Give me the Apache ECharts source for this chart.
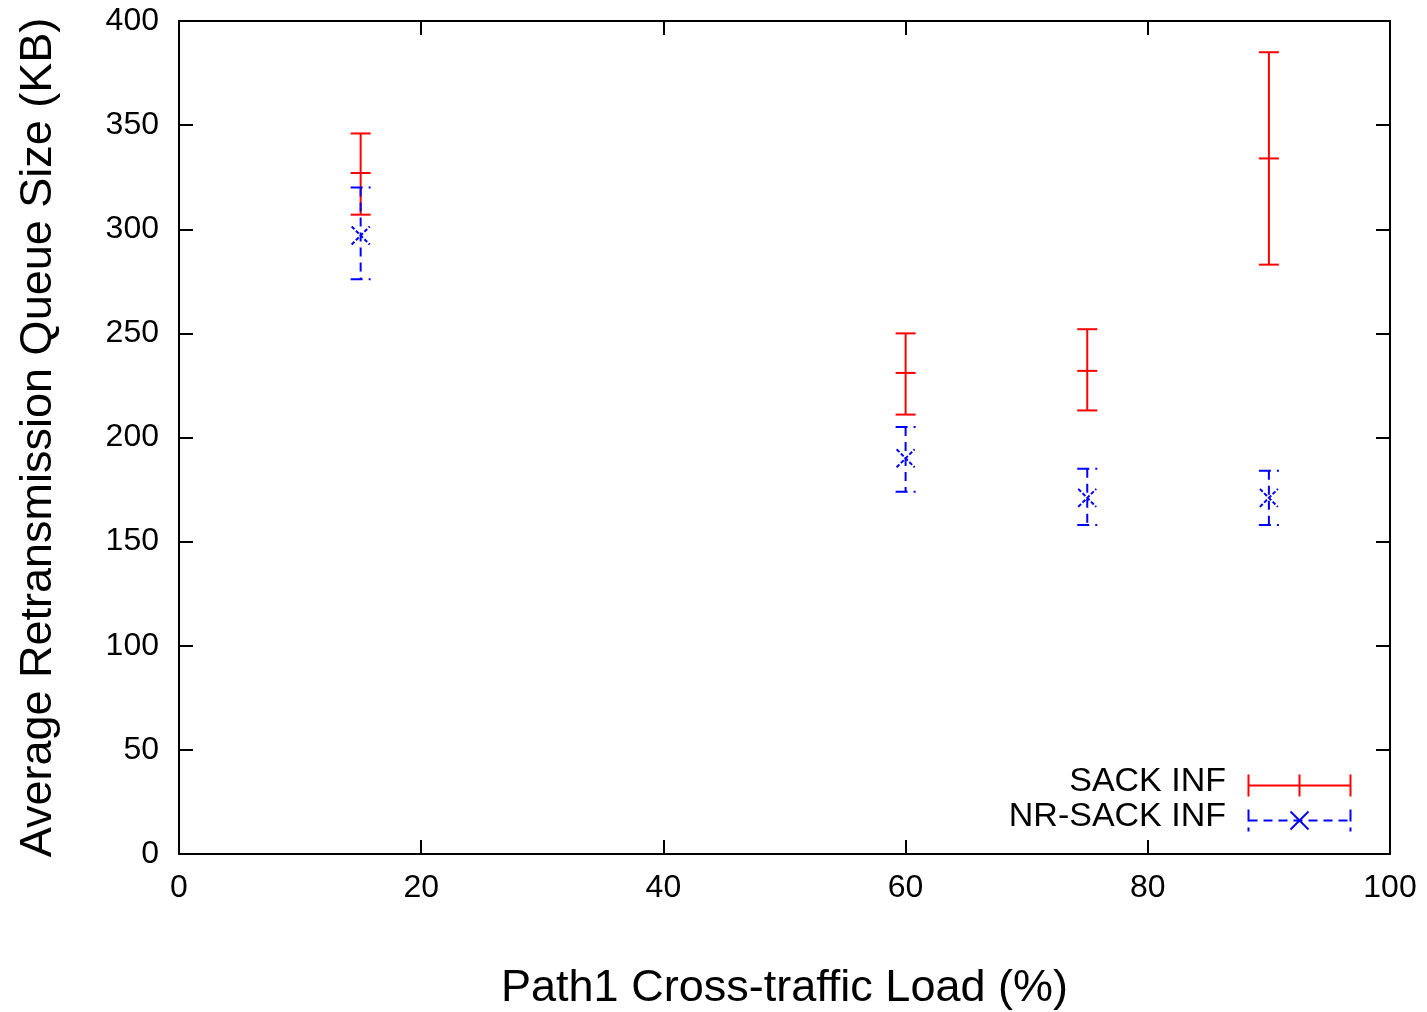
<!DOCTYPE html>
<html><head><meta charset="utf-8">
<script src="https://cdn.jsdelivr.net/npm/echarts@6/dist/echarts.min.js"></script>
<style>html,body{margin:0;padding:0;background:#fff}#c{width:1427px;height:1012px}</style>
</head><body><div id="c"></div>
<script>
// Data: [x, mean, low, high]
const loads = [15, 60, 75, 90];
const sackMean = [327, 231, 232, 334];
const sackLow = [307, 211, 213, 283];
const sackHigh = [346, 250, 252, 385];
const nrMean = [297, 190, 171, 171];
const nrLow = [276, 174, 158, 158];
const nrHigh = [320, 205, 185, 184];
const seriesNames = ['SACK INF', 'NR-SACK INF'];
const xTicks = [0, 20, 40, 60, 80, 100];
const yTicks = [0, 50, 100, 150, 200, 250, 300, 350, 400];

const FONT = '"Liberation Sans", Arial, sans-serif';
const RED = '#ff0000', BLUE = '#0000ff';

function build(mean, low, high) {
  return loads.map((x, i) => [x, mean[i], low[i], high[i]]);
}

function renderSack(params, api) {
  const x = api.value(0);
  const m = api.coord([x, api.value(1)]);
  const lo = api.coord([x, api.value(2)]);
  const hi = api.coord([x, api.value(3)]);
  const w = 10;
  const st = { stroke: RED, lineWidth: 2, fill: null };
  return { type: 'group', children: [
    { type: 'line', shape: { x1: lo[0], y1: lo[1], x2: hi[0], y2: hi[1] }, style: st },
    { type: 'line', shape: { x1: lo[0]-w, y1: lo[1], x2: lo[0]+w, y2: lo[1] }, style: st },
    { type: 'line', shape: { x1: hi[0]-w, y1: hi[1], x2: hi[0]+w, y2: hi[1] }, style: st },
    { type: 'line', shape: { x1: m[0]-w, y1: m[1], x2: m[0]+w, y2: m[1] }, style: st }
  ]};
}

function renderNr(params, api) {
  const x = api.value(0);
  const m = api.coord([x, api.value(1)]);
  const lo = api.coord([x, api.value(2)]);
  const hi = api.coord([x, api.value(3)]);
  const w = 10, s = 9;
  const st = { stroke: BLUE, lineWidth: 2, fill: null, lineDash: [9, 6] };
  const sx = { stroke: BLUE, lineWidth: 2, fill: null, lineDash: [4, 2] };
  const cap = { stroke: BLUE, lineWidth: 2, lineDash: [12, 6] };
  return { type: 'group', children: [
    { type: 'line', shape: { x1: hi[0], y1: hi[1], x2: lo[0], y2: lo[1] }, style: st },
    { type: 'line', shape: { x1: lo[0]-w, y1: lo[1], x2: lo[0]+w, y2: lo[1] }, style: cap },
    { type: 'line', shape: { x1: hi[0]-w, y1: hi[1], x2: hi[0]+w, y2: hi[1] }, style: cap },
    { type: 'line', shape: { x1: m[0]-s, y1: m[1]-s, x2: m[0]+s, y2: m[1]+s }, style: sx },
    { type: 'line', shape: { x1: m[0]-s, y1: m[1]+s, x2: m[0]+s, y2: m[1]-s }, style: sx }
  ]};
}

const chart = echarts.init(document.getElementById('c'), null, { renderer: 'canvas' });
function axisCommon() {
  return {
    axisLine: { show: true, onZero: false, lineStyle: { color: '#000', width: 2 } },
    axisTick: { show: true, inside: true, length: 14, lineStyle: { color: '#000', width: 2 } },
    splitLine: { show: false }
  };
}
chart.setOption({
  animation: false,
  backgroundColor: '#fff',
  grid: { left: 179, right: 37, top: 21, bottom: 158, show: false, containLabel: false, outerBoundsMode: 'none' },
  xAxis: [
    Object.assign({ type: 'value', min: 0, max: 100, interval: 20, position: 'bottom',
      name: 'Path1 Cross-traffic Load (%)', nameLocation: 'middle', nameGap: 112,
      nameTextStyle: { fontFamily: FONT, fontSize: 45, color: '#000' },
      axisLabel: { fontFamily: FONT, fontSize: 32, color: '#000', margin: 18 } }, axisCommon()),
    Object.assign({ type: 'value', min: 0, max: 100, interval: 20, position: 'top',
      axisLabel: { show: false } }, axisCommon())
  ],
  yAxis: [
    Object.assign({ type: 'value', min: 0, max: 400, interval: 50, position: 'left',
      name: 'Average Retransmission Queue Size (KB)', nameLocation: 'middle', nameGap: 118,
      nameTextStyle: { fontFamily: FONT, fontSize: 45, color: '#000' },
      axisLabel: { fontFamily: FONT, fontSize: 32, color: '#000', margin: 20 } }, axisCommon()),
    Object.assign({ type: 'value', min: 0, max: 400, interval: 50, position: 'right',
      axisLabel: { show: false } }, axisCommon())
  ],
  series: [
    { name: seriesNames[0], type: 'custom', renderItem: renderSack, data: build(sackMean, sackLow, sackHigh),
      encode: { x: 0, y: [1, 2, 3] }, clip: false },
    { name: seriesNames[1], type: 'custom', renderItem: renderNr, data: build(nrMean, nrLow, nrHigh),
      encode: { x: 0, y: [1, 2, 3] }, clip: false }
  ],
  graphic: [
    { type: 'text', right: 1427 - 1226, top: 765, style: { text: seriesNames[0], font: '34px ' + FONT, fill: '#000' } },
    { type: 'text', right: 1427 - 1226, top: 800, style: { text: seriesNames[1], font: '34px ' + FONT, fill: '#000' } },
    { type: 'group', left: 1246, top: 772, children: [
      { type: 'line', shape: { x1: 0, y1: 11, x2: 102, y2: 11 }, style: { stroke: RED, lineWidth: 2 } },
      { type: 'line', shape: { x1: 0, y1: 0, x2: 0, y2: 22 }, style: { stroke: RED, lineWidth: 2 } },
      { type: 'line', shape: { x1: 51, y1: 0, x2: 51, y2: 22 }, style: { stroke: RED, lineWidth: 2 } },
      { type: 'line', shape: { x1: 102, y1: 0, x2: 102, y2: 22 }, style: { stroke: RED, lineWidth: 2 } }
    ]},
    { type: 'group', left: 1246, top: 807, children: [
      { type: 'line', shape: { x1: 0, y1: 11, x2: 102, y2: 11 }, style: { stroke: BLUE, lineWidth: 2, lineDash: [9, 6] } },
      { type: 'line', shape: { x1: 0, y1: 0, x2: 0, y2: 22 }, style: { stroke: BLUE, lineWidth: 2, lineDash: [12, 6] } },
      { type: 'line', shape: { x1: 102, y1: 0, x2: 102, y2: 22 }, style: { stroke: BLUE, lineWidth: 2, lineDash: [12, 6] } },
      { type: 'line', shape: { x1: 42, y1: 2, x2: 60, y2: 20 }, style: { stroke: BLUE, lineWidth: 2 } },
      { type: 'line', shape: { x1: 42, y1: 20, x2: 60, y2: 2 }, style: { stroke: BLUE, lineWidth: 2 } }
    ]}
  ]
});
</script></body></html>
